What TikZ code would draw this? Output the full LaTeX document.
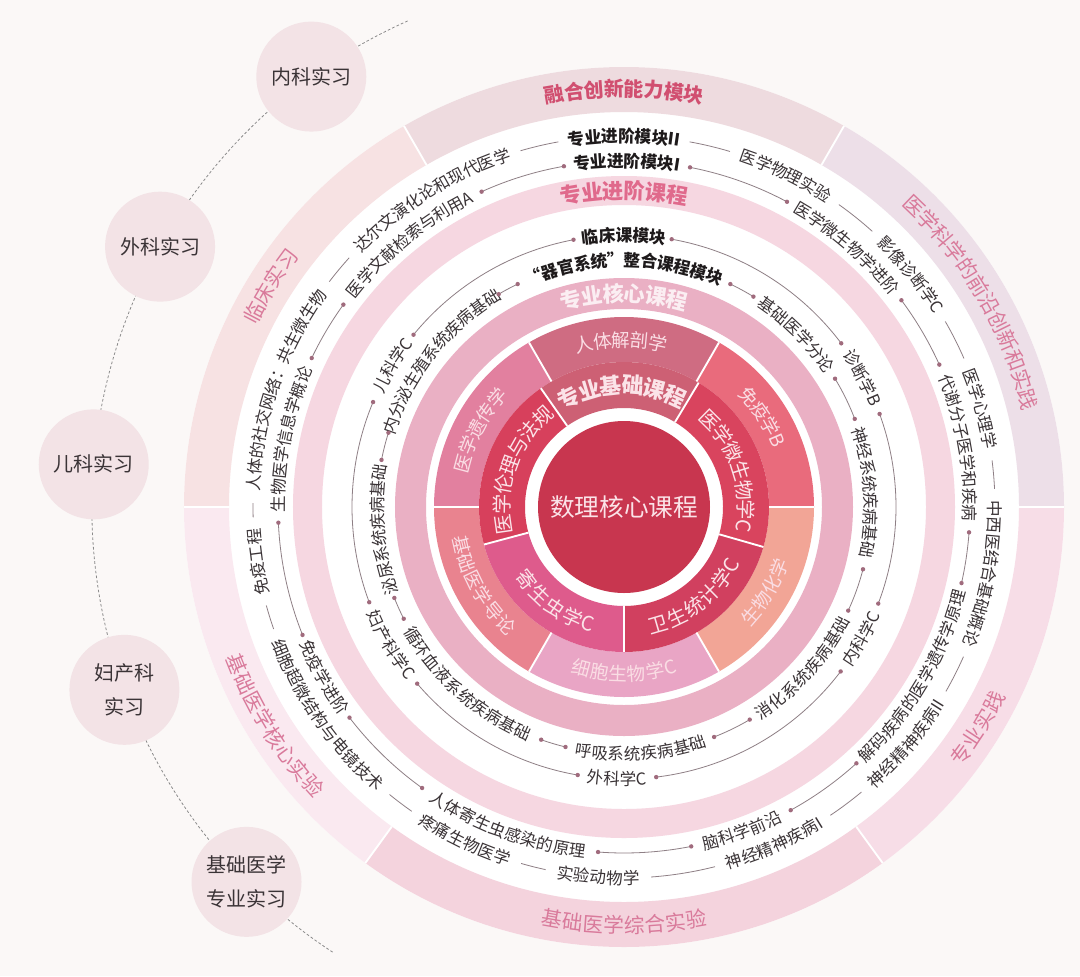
\documentclass[tikz,border=0pt]{standalone}
\usepackage{fontspec}
\setmainfont{Noto Sans CJK SC}
\usepackage{tikz}
\usetikzlibrary{decorations.text}
\definecolor{CurPaper}{HTML}{FBF8F7}
\definecolor{CurInk}{HTML}{3A3336}
\definecolor{CurDark}{HTML}{1E1A1B}
\definecolor{CurLine}{HTML}{8E7F85}
\definecolor{CurDot}{HTML}{A06B7D}
\definecolor{CurDash}{HTML}{8A8A8A}
\definecolor{CurBubble}{HTML}{F3E3E6}
\definecolor{CurCore}{HTML}{C8364F}
\definecolor{CurCoreTxt}{HTML}{FBE3E8}
\definecolor{CurBaseTop}{HTML}{CD6074}
\definecolor{CurEthic}{HTML}{D7405C}
\definecolor{CurMicro}{HTML}{D9445E}
\definecolor{CurStat}{HTML}{D1405F}
\definecolor{CurPara}{HTML}{DE5B8C}
\definecolor{CurAnat}{HTML}{CF6C82}
\definecolor{CurImmu}{HTML}{E96B7C}
\definecolor{CurBioc}{HTML}{F2A596}
\definecolor{CurCell}{HTML}{E9A5C5}
\definecolor{CurIntro}{HTML}{E9838F}
\definecolor{CurGene}{HTML}{E2809F}
\definecolor{CurRingTxt}{HTML}{FADDE4}
\definecolor{CurCoreBand}{HTML}{EAB0C4}
\definecolor{CurCoreBandTxt}{HTML}{FBEEF2}
\definecolor{CurAdvBand}{HTML}{F6D7E1}
\definecolor{CurAdvTxt}{HTML}{E06A8C}
\definecolor{CurClin}{HTML}{F7E2E3}
\definecolor{CurFuse}{HTML}{EEDBDF}
\definecolor{CurFront}{HTML}{EDDFE8}
\definecolor{CurPract}{HTML}{F7DDE7}
\definecolor{CurLab}{HTML}{F4D3DD}
\definecolor{CurLabCore}{HTML}{FAE9F0}
\definecolor{CurOutTxt}{HTML}{D97A9B}
\definecolor{CurOutBold}{HTML}{D14F70}
\newcommand\fitem{\fontsize{12.4}{14}\selectfont\color{CurInk}}
\newcommand\fmod{\fontsize{12.6}{14}\selectfont\bfseries\color{CurDark}}
\newcommand\fcoreband{\fontsize{16}{18}\selectfont\bfseries\color{CurCoreBandTxt}}
\newcommand\fadv{\fontsize{16}{18}\selectfont\bfseries\color{CurAdvTxt}}
\newcommand\fouter{\fontsize{15.5}{18}\selectfont\color{CurOutTxt}}
\newcommand\fouterb{\fontsize{15}{18}\selectfont\bfseries\color{CurOutBold}}
\newcommand\fbase{\fontsize{15}{18}\selectfont\color{CurCoreTxt}}
\newcommand\fbaseb{\fontsize{16.5}{18}\selectfont\bfseries\color{CurCoreTxt}}
\newcommand\fring{\fontsize{14}{16}\selectfont\color{CurRingTxt}}
% font, raise, radius, mid angle, text
\newcommand\cwtext[5]{\path[decorate,decoration={text along path,text align=center,raise=#2,text={|#1|#5}}]
  ({#4+70}:#3) arc[start angle={#4+70},end angle={#4-70},radius=#3];}
\newcommand\ccwtext[5]{\path[decorate,decoration={text along path,text align=center,raise=#2,text={|#1|#5}}]
  ({#4-70}:#3) arc[start angle={#4-70},end angle={#4+70},radius=#3];}
% radius, from, to
\newcommand\dotlink[3]{\draw[link] (#2:#1) arc[start angle=#2,end angle=#3,radius=#1];
  \fill[dot] (#2:#1) circle[radius=2.2]; \fill[dot] (#3:#1) circle[radius=2.2];}
\newcommand\plainlink[3]{\draw[link] (#2:#1) arc[start angle=#2,end angle=#3,radius=#1];}
% inner radius, outer radius, from, to, colour
\newcommand\sector[5]{\fill[#5] (#3:#1) arc[start angle=#3,end angle=#4,radius=#1]
  -- (#4:#2) arc[start angle=#4,end angle=#3,radius=#2] -- cycle;}
\begin{document}
\begin{tikzpicture}[x=0.75pt,y=0.75pt,
  link/.style={draw=CurLine,line width=0.6pt},
  dot/.style={fill=CurDot},
  sep/.style={draw=white,line width=1.4pt},
  bubble/.style={circle,fill=CurBubble,minimum size=82.5pt,inner sep=0pt,align=center,text=CurInk,font=\fontsize{15}{25}\selectfont},
]
\fill[CurPaper] (-624,-469) rectangle (456,507);
\useasboundingbox (-624,-469) rectangle (456,507);
% internships
\draw[CurDash,line width=0.6pt,dash pattern=on 2pt off 1.6pt] (114:532) arc[start angle=114,end angle=237,radius=532];
\node[bubble] (nk) at (126:532) {内科实习};
\node[bubble] (wk) at (150.7:532) {外科实习};
\node[bubble] (ek) at (175.4:532) {儿科实习};
\node[bubble] (fk) at (200.1:532) {妇产科\\实习};
\node[bubble] (jc) at (224.8:532) {基础医学\\专业实习};
% rings
\fill[white] (0,0) circle[radius=440];
\sector{395}{440}{120}{180}{CurClin}
\sector{395}{440}{60}{120}{CurFuse}
\sector{395}{440}{0}{60}{CurFront}
\sector{395}{440}{-54}{0}{CurPract}
\sector{395}{440}{234}{306}{CurLab}
\sector{395}{440}{180}{234}{CurLabCore}
\foreach \a in {0,60,120,180,234,306} \draw[sep] (\a:395) -- (\a:440);
\fill[CurAdvBand,even odd rule] (0,0) circle[radius=331] (0,0) circle[radius=302];
\fill[CurCoreBand,even odd rule] (0,0) circle[radius=229] (0,0) circle[radius=198];
\sector{145}{190}{60}{120}{CurAnat}
\sector{145}{190}{0}{60}{CurImmu}
\sector{145}{190}{-60}{0}{CurBioc}
\sector{145}{190}{240}{300}{CurCell}
\sector{145}{190}{180}{240}{CurIntro}
\sector{145}{190}{120}{180}{CurGene}
\sector{99}{145}{59}{125}{CurBaseTop}
\sector{99}{145}{125}{195}{CurEthic}
\sector{99}{145}{195}{270}{CurPara}
\sector{99}{145}{270}{344}{CurStat}
\sector{99}{145}{-16}{59}{CurMicro}
\foreach \a in {0,60,...,300} \draw[sep] (\a:145) -- (\a:190);
\foreach \a in {59,125,195,270,344} \draw[sep] (\a:99) -- (\a:145);
\fill[CurCore] (0,0) circle[radius=86];
\node[text=CurCoreTxt,font=\fontsize{18.5}{20}\selectfont] (core) at (0,0) {数理核心课程};
% ring labels
\cwtext{\fbaseb}{-6.3pt}{122}{91}{专业基础课程}
\cwtext{\fbase}{-5.7pt}{122}{160}{医学伦理与法规}
\cwtext{\fbase}{-5.7pt}{122}{19}{医学微生物学C}
\ccwtext{\fbase}{-5.7pt}{122}{-52}{卫生统计学C}
\ccwtext{\fbase}{-5.7pt}{122}{234}{寄生虫学C}
\cwtext{\fring}{-5.3pt}{167}{91}{人体解剖学}
\cwtext{\fring}{-5.3pt}{167}{33}{免疫学B}
\ccwtext{\fring}{-5.3pt}{167}{-31}{生物化学}
\ccwtext{\fring}{-5.3pt}{167}{-90}{细胞生物学C}
\ccwtext{\fring}{-5.3pt}{167}{209}{基础医学导论}
\cwtext{\fring}{-5.3pt}{167}{152}{医学遗传学}
\cwtext{\fcoreband}{-6.1pt}{213.5}{90}{专业核心课程}
\cwtext{\fadv}{-6.1pt}{316.5}{90}{专业进阶课程}
\cwtext{\fouterb}{-5.7pt}{418}{90}{融合创新能力模块}
\cwtext{\fouter}{-5.9pt}{418}{30.5}{医学科学的前沿创新和实践}
\ccwtext{\fouter}{-5.9pt}{418}{-32}{专业实践}
\ccwtext{\fouter}{-5.9pt}{418}{-90}{基础医学综合实验}
\ccwtext{\fouter}{-5.9pt}{418}{212}{基础医学核心实验}
\cwtext{\fouter}{-5.9pt}{418}{148}{临床实习}
% core courses
\cwtext{\fmod}{-4.8pt}{247}{90}{“器官系统”整合课程模块}
\cwtext{\fitem}{-4.7pt}{247}{45}{基础医学分论}
\cwtext{\fitem}{-4.7pt}{247}{3.5}{神经系统疾病基础}
\ccwtext{\fitem}{-4.7pt}{247}{-42}{消化系统疾病基础}
\ccwtext{\fitem}{-4.7pt}{247}{-86}{呼吸系统疾病基础}
\ccwtext{\fitem}{-4.7pt}{247}{228.5}{循环血液系统疾病基础}
\cwtext{\fitem}{-4.7pt}{247}{185.3}{泌尿系统疾病基础}
\cwtext{\fitem}{-4.7pt}{247}{141.5}{内分泌生殖系统疾病基础}
\dotlink{247}{64.5}{58.4}
\dotlink{247}{31.3}{20.9}
\dotlink{247}{-14.6}{-24.8}
\dotlink{247}{-59.4}{-68.6}
\dotlink{247}{-103.7}{-109.6}
\dotlink{247}{206.9}{201.6}
\dotlink{247}{169}{162.5}
\dotlink{247}{120.5}{115.5}
\cwtext{\fmod}{-4.8pt}{272}{90}{临床课模块}
\cwtext{\fitem}{-4.7pt}{272}{28.5}{诊断学B}
\ccwtext{\fitem}{-4.7pt}{272}{-29}{内科学C}
\ccwtext{\fitem}{-4.7pt}{272}{-91.5}{外科学C}
\ccwtext{\fitem}{-4.7pt}{272}{210.6}{妇产科学C}
\cwtext{\fitem}{-4.7pt}{272}{148.5}{儿科学C}
\dotlink{272}{79.9}{37}
\dotlink{272}{20}{-20.8}
\dotlink{272}{-37.2}{-83.2}
\dotlink{272}{-99.8}{-139.5}
\dotlink{272}{200.5}{157.3}
\dotlink{272}{140.7}{100.7}
% advanced courses
\cwtext{\fmod}{-4.8pt}{346}{89.5}{专业进阶模块I}
\cwtext{\fitem}{-4.7pt}{346}{49.3}{医学微生物学进阶}
\cwtext{\fitem}{-4.7pt}{346}{10}{代谢分子医学和疾病}
\ccwtext{\fitem}{-4.7pt}{346}{-30.3}{解码疾病的医学遗传学原理}
\ccwtext{\fitem}{-4.7pt}{346}{-70}{脑科学前沿}
\ccwtext{\fitem}{-4.7pt}{346}{250}{人体寄生虫感染的原理}
\ccwtext{\fitem}{-4.7pt}{346}{209.6}{免疫学进阶}
\cwtext{\fitem}{-4.7pt}{346}{168.5}{生物医学信息学概论}
\cwtext{\fitem}{-4.7pt}{346}{129.2}{医学文献检索与利用A}
\dotlink{346}{79}{61.9}
\dotlink{346}{36.7}{24.3}
\dotlink{346}{-4.2}{-12.7}
\dotlink{346}{-47.8}{-61.2}
\dotlink{346}{-78.8}{-94.3}
\dotlink{346}{234.3}{217.5}
\dotlink{346}{201.7}{182.6}
\dotlink{346}{154.5}{144.2}
\dotlink{346}{114.3}{100}
\cwtext{\fmod}{-4.8pt}{371}{90}{专业进阶模块II}
\cwtext{\fitem}{-4.7pt}{371}{64}{医学物理实验}
\cwtext{\fitem}{-4.7pt}{371}{39}{影像诊断学C}
\cwtext{\fitem}{-4.7pt}{371}{15.4}{医学心理学}
\cwtext{\fitem}{-4.7pt}{371}{-10.5}{中西医结合基础概论}
\ccwtext{\fitem}{-4.7pt}{371}{-40}{神经精神疾病II}
\ccwtext{\fitem}{-4.7pt}{371}{-66}{神经精神疾病I}
\ccwtext{\fitem}{-4.7pt}{371}{-94}{实验动物学}
\ccwtext{\fitem}{-4.7pt}{371}{244.5}{疼痛生物医学}
\ccwtext{\fitem}{-4.7pt}{371}{215}{细胞超微结构与电镜技术}
\cwtext{\fitem}{-4.7pt}{371}{188.5}{免疫工程}
\cwtext{\fitem}{-4.7pt}{371}{161}{人体的社交网络：共生微生物}
\cwtext{\fitem}{-4.7pt}{371}{122}{达尔文演化论和现代医学}
\plainlink{371}{79.8}{73.4}
\plainlink{371}{54.6}{48}
\plainlink{371}{30}{23.6}
\plainlink{371}{7.2}{2.8}
\plainlink{371}{-23.8}{-29.8}
\plainlink{371}{-50.2}{-56.2}
\plainlink{371}{-75.8}{-85.8}
\plainlink{371}{-102.2}{-106.1}
\plainlink{371}{235.1}{230.8}
\plainlink{371}{199.2}{195.4}
\plainlink{371}{181.6}{179.4}
\plainlink{371}{142.6}{137.8}
\plainlink{371}{106.2}{100.2}
\end{tikzpicture}
\end{document}
